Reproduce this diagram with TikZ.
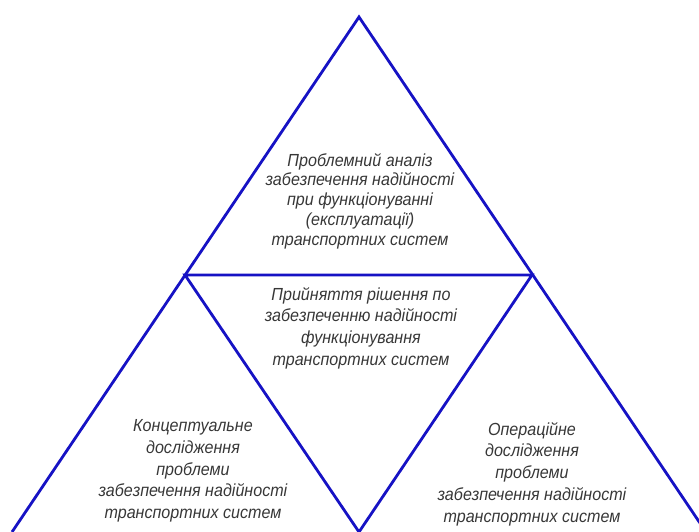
\documentclass[tikz,border=0pt]{standalone}
\usepackage{fontspec}
\setmainfont{Liberation Sans}
\newfontfamily\gostfont{Liberation Sans}[FakeStretch=0.92]
\definecolor{edgeblue}{RGB}{22,18,196}
\definecolor{textgray}{RGB}{55,55,55}
\begin{document}
\begin{tikzpicture}[x=1pt, y=-1pt,
    edge/.style={edgeblue, line width=2.8pt, line join=miter},
    lbl/.style={align=center, text=textgray, inner sep=0pt,
        font=\gostfont\fontsize{17.5}{21.7}\selectfont\itshape}]
    \clip (0,0) rectangle (699,532);

    % vertices
    \coordinate (top) at (359,17);
    \coordinate (botleft) at (12,532);
    \coordinate (botright) at (706,532);
    \coordinate (midleft) at (185,275);
    \coordinate (midright) at (532,275);
    \coordinate (botmid) at (359,532);

    % outer triangle
    \draw[edge] (botleft) -- (top) -- (botright);
    % inner triangle
    \draw[edge] (midleft) -- (midright) -- (botmid) -- cycle;

    % texts
    \node[lbl, font=\gostfont\fontsize{17.5}{19.8}\selectfont\itshape] (analysis) at (360,201) {Проблемний аналіз\\забезпечення надійності\\при функціонуванні\\(експлуатації)\\транспортних систем};
    \node[lbl] (decision) at (361,328) {Прийняття рішення по\\забезпеченню надійності\\функціонування\\транспортних систем};
    \node[lbl] (concept) at (193,471) {Концептуальне\\дослідження\\проблеми\\забезпечення надійності\\транспортних систем};
    \node[lbl] (operation) at (532,474) {Операційне\\дослідження\\проблеми\\забезпечення надійності\\транспортних систем};
\end{tikzpicture}
\end{document}
